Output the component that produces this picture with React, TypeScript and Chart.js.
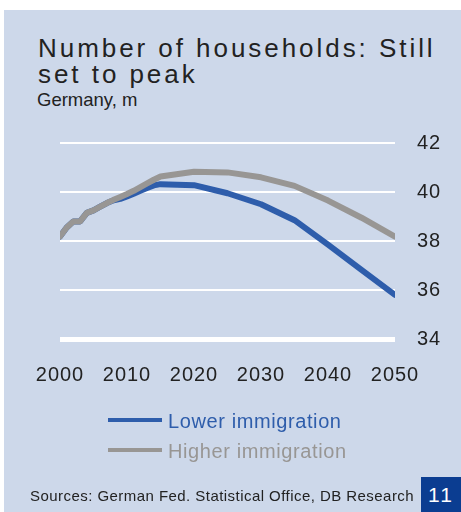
import React, { useEffect, useRef } from "react";
import { Chart, registerables } from "chart.js";

Chart.register(...registerables);

const years = [2000, 2001, 2002, 2003, 2004, 2005, 2006, 2007, 2008, 2009, 2010, 2011, 2012, 2013, 2014, 2015, 2020, 2025, 2030, 2035, 2040, 2045, 2050];
const higherImmigration = [38.18, 38.55, 38.8, 38.8, 39.15, 39.25, 39.4, 39.55, 39.68, 39.8, 39.92, 40.05, 40.2, 40.35, 40.5, 40.63, 40.83, 40.8, 40.6, 40.25, 39.65, 38.95, 38.18];
const lowerImmigration = [38.18, 38.55, 38.8, 38.8, 39.15, 39.25, 39.4, 39.55, 39.66, 39.72, 39.82, 39.93, 40.05, 40.16, 40.27, 40.32, 40.28, 39.95, 39.5, 38.85, 37.85, 36.82, 35.8];
const yTicks = [34, 36, 38, 40, 42];
const xTicks = [2000, 2010, 2020, 2030, 2040, 2050];

const FONT = "'Liberation Sans', Arial, sans-serif";
const BLUE = "#2e5dab";
const GRAY = "#989694";
const PANEL = "#cdd8ea";

export default function App() {
  const ref = useRef<HTMLCanvasElement | null>(null);

  useEffect(() => {
    if (!ref.current) return;
    const spacing = {
      id: "spacing",
      beforeDraw(chart: any) {
        chart.ctx.letterSpacing = "1px";
      },
    };
    const chart = new Chart(ref.current, {
      type: "line",
      data: {
        datasets: [
          {
            label: "Higher immigration",
            data: years.map((y, i) => ({ x: y, y: higherImmigration[i] })),
            borderColor: GRAY,
            borderWidth: 6,
            pointRadius: 0,
            tension: 0,
            borderCapStyle: "round",
            borderJoinStyle: "round",
          },
          {
            label: "Lower immigration",
            data: years.map((y, i) => ({ x: y, y: lowerImmigration[i] })),
            borderColor: BLUE,
            borderWidth: 6,
            pointRadius: 0,
            tension: 0,
            borderCapStyle: "round",
            borderJoinStyle: "round",
          },
        ],
      },
      options: {
        animation: false,
        responsive: false,
        maintainAspectRatio: false,
        devicePixelRatio: 1,
        layout: { padding: { left: 60, top: 143, right: 16, bottom: 113 } },
        plugins: { legend: { display: false }, tooltip: { enabled: false } },
        scales: {
          x: {
            type: "linear",
            min: 2000,
            max: 2050,
            afterBuildTicks: (s: any) => {
              s.ticks = xTicks.map((v) => ({ value: v }));
            },
            afterFit: (s: any) => {
              s.height = 60;
            },
            grid: { display: false, drawTicks: false },
            border: { display: false },
            ticks: {
              padding: 24,
              maxRotation: 0,
              autoSkip: false,
              color: "#222",
              font: { family: FONT, size: 20 },
              callback: (v: any) => String(v),
            },
          },
          y: {
            position: "right",
            min: 34,
            max: 42,
            afterBuildTicks: (s: any) => {
              s.ticks = yTicks.map((v) => ({ value: v }));
            },
            afterFit: (s: any) => {
              s.width = 50;
            },
            grid: {
              color: "#ffffff",
              lineWidth: (c: any) => (c.tick && c.tick.value === 34 ? 5 : 2),
              drawTicks: false,
            },
            border: { display: false },
            ticks: {
              padding: 22,
              color: "#222",
              font: { family: FONT, size: 20 },
              callback: (v: any) => String(v),
            },
          },
        },
      },
      plugins: [spacing],
    } as any);
    return () => chart.destroy();
  }, []);

  return (
    <div style={{ position: "fixed", left: 0, top: 0, width: 461, height: 512, background: "#fff", overflow: "hidden", fontFamily: FONT }}>
      <div style={{ position: "absolute", left: 4, top: 10, width: 457, height: 502, background: PANEL }} />
      <div style={{ position: "absolute", left: 38, top: 34.7, fontSize: 26, lineHeight: "26.3px", letterSpacing: "2.95px", color: "#222", whiteSpace: "nowrap" }}>
        Number of households: Still
        <br />
        set to peak
      </div>
      <div style={{ position: "absolute", left: 37, top: 90.3, fontSize: 18.5, lineHeight: "20px", color: "#222", whiteSpace: "nowrap" }}>
        Germany, m
      </div>
      <canvas ref={ref} width={461} height={512} style={{ position: "absolute", left: 0, top: 0, width: 461, height: 512 }} />
      <div style={{ position: "absolute", left: 108, top: 418, width: 54, height: 4, background: BLUE }} />
      <div style={{ position: "absolute", left: 108, top: 448, width: 54, height: 4, background: GRAY }} />
      <div style={{ position: "absolute", left: 168, top: 411, fontSize: 20, lineHeight: "20px", letterSpacing: "0.6px", color: BLUE, whiteSpace: "nowrap" }}>
        Lower immigration
      </div>
      <div style={{ position: "absolute", left: 168, top: 441, fontSize: 20, lineHeight: "20px", letterSpacing: "0.6px", color: GRAY, whiteSpace: "nowrap" }}>
        Higher immigration
      </div>
      <div style={{ position: "absolute", left: 30, top: 488.3, fontSize: 15, lineHeight: "15px", letterSpacing: "0.45px", color: "#222", whiteSpace: "nowrap" }}>
        Sources: German Fed. Statistical Office, DB Research
      </div>
      <div style={{ position: "absolute", left: 421, top: 477, width: 40, height: 35, background: "#0b3d91", color: "#fff", fontSize: 21, lineHeight: "35px", letterSpacing: "2px", textAlign: "center" }}>
        11
      </div>
    </div>
  );
}
